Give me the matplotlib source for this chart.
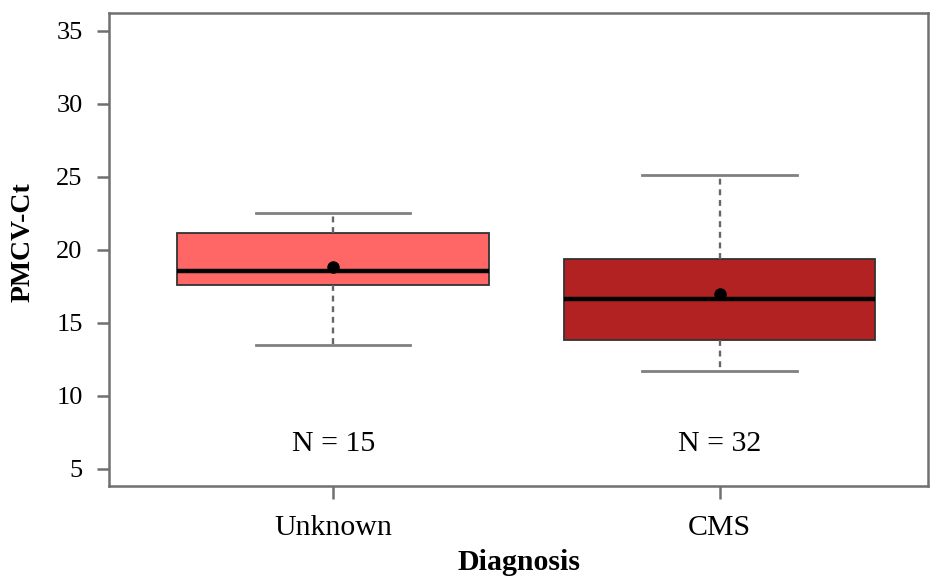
import matplotlib.pyplot as plt

plt.rcParams['font.family'] = ['Liberation Serif', 'DejaVu Serif']

# Summary statistics per diagnosis group
groups = ["Unknown", "CMS"]
n_obs = [15, 32]
whisker_lo = [13.5, 11.7]
q1 = [17.6, 13.85]
medians = [18.55, 16.65]
q3 = [21.15, 19.4]
whisker_hi = [22.5, 25.1]
means = [18.85, 17.0]
box_colors = ["#FF6666", "#B22222"]

stats = []
for i, g in enumerate(groups):
    stats.append(dict(label=g, whislo=whisker_lo[i], q1=q1[i], med=medians[i],
                      q3=q3[i], whishi=whisker_hi[i], mean=means[i], fliers=[]))

fig = plt.figure(figsize=(9.32, 5.84), dpi=100)
ax = fig.add_axes([0.117, 0.168, 0.879, 0.810])

positions = [1, 2]
bp = ax.bxp(stats, positions=positions, widths=0.806, patch_artist=True,
            showmeans=True, showfliers=False,
            boxprops=dict(edgecolor="#333333", linewidth=1.3),
            medianprops=dict(color="black", linewidth=3.2),
            whiskerprops=dict(color="#666666", linewidth=1.7, linestyle=(0, (2.5, 2))),
            capprops=dict(color="#808080", linewidth=2.0),
            meanprops=dict(marker="o", markerfacecolor="black", markeredgecolor="black",
                           markersize=8),
            capwidths=0.40)
for patch, c in zip(bp["boxes"], box_colors):
    patch.set_facecolor(c)

# Sample size labels under each box
for x, n in zip(positions, n_obs):
    ax.text(x, 6.7, f"N = {n}", ha="center", va="center", fontsize=21.5)

ax.set_xlim(0.42, 2.54)
ax.set_ylim(3.83, 36.24)
ax.set_yticks([5, 10, 15, 20, 25, 30, 35])
ax.set_xticks(positions)
ax.set_xticklabels(groups)

for side in ax.spines.values():
    side.set_color("#707070")
    side.set_linewidth(1.8)
ax.tick_params(axis="both", direction="out", length=9, width=1.8, color="#707070",
               labelsize=19, pad=8)
ax.tick_params(axis="x", labelsize=21.5, pad=12)
ax.tick_params(axis="y", pad=10)

ax.set_xlabel("Diagnosis", fontsize=21.5, fontweight="bold")
ax.xaxis.set_label_coords(0.5, -0.133)
ax.set_ylabel("PMCV-Ct", fontsize=20, fontweight="bold")
ax.yaxis.set_label_coords(-0.09, 0.515)

fig.savefig("out.png", dpi=100)
